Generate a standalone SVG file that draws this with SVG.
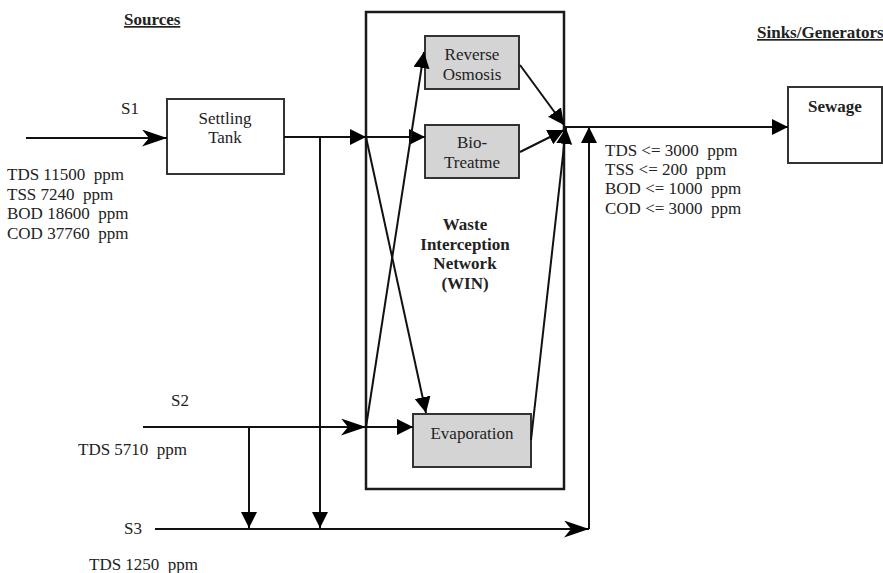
<svg xmlns="http://www.w3.org/2000/svg" width="883" height="573" viewBox="0 0 883 573">
  <style>
    text { font-family: "Liberation Serif", "Times New Roman", serif; font-size: 17px; fill: #222; white-space: pre; }
    .c { text-anchor: middle; }
    .b { font-weight: bold; }
    .u { text-decoration: underline; }
    .box { fill: #fff; stroke: #333; stroke-width: 2; }
    .unit { fill: #d4d4d4; stroke: #333; stroke-width: 2; }
    .win { fill: none; stroke: #1a1a1a; stroke-width: 2.5; }
    .flow { fill: none; stroke: #111; stroke-width: 2; }
    .tri { marker-end: url(#tri); }
    .stl { marker-end: url(#stealth); }
  </style>
  <defs>
    <marker id="tri" markerUnits="userSpaceOnUse" markerWidth="18" markerHeight="17" refX="16" refY="8" orient="auto">
      <path d="M0,0 L16,8 L0,16 z" fill="#000"/>
    </marker>
    <marker id="stealth" markerUnits="userSpaceOnUse" markerWidth="26" markerHeight="18" refX="25" refY="8.5" orient="auto">
      <path d="M0,0 L25,8.5 L0,17 L7,8.5 z" fill="#000"/>
    </marker>
  </defs>

  <rect width="883" height="573" fill="#fff"/>

  <!-- headings -->
  <text class="b u" x="124" y="25">Sources</text>
  <text class="b u" x="757" y="38">Sinks/Generators</text>

  <!-- interception network enclosure -->
  <g id="win">
    <rect class="win" x="366" y="12" width="198" height="477"/>
    <text class="b c" x="465" y="230" font-size="16">Waste</text>
    <text class="b c" x="465" y="250" font-size="16">Interception</text>
    <text class="b c" x="465" y="269" font-size="16">Network</text>
    <text class="b c" x="465" y="289" font-size="16">(WIN)</text>
  </g>

  <g id="settling-tank">
    <rect class="box" x="167" y="99" width="117" height="75"/>
    <text class="c" x="225" y="124">Settling</text>
    <text class="c" x="225" y="143">Tank</text>
  </g>

  <g id="reverse-osmosis">
    <rect class="unit" x="425" y="36" width="94" height="53"/>
    <text class="c" x="472" y="60">Reverse</text>
    <text class="c" x="472" y="80">Osmosis</text>
  </g>

  <g id="bio-treatment">
    <rect class="unit" x="425" y="125" width="94" height="53"/>
    <text class="c" x="472" y="148">Bio-</text>
    <text class="c" x="472" y="168">Treatme</text>
  </g>

  <g id="evaporation">
    <rect class="unit" x="413" y="414" width="118" height="53"/>
    <text class="c" x="472" y="439">Evaporation</text>
  </g>

  <g id="sewage">
    <rect class="box" x="788" y="87" width="94" height="76"/>
    <text class="b c" x="835" y="112">Sewage</text>
  </g>

  <!-- source streams -->
  <g id="source-s1">
    <text class="c" x="130" y="114">S1</text>
    <text x="7" y="180">TDS 11500  ppm</text>
    <text x="7" y="199.5">TSS 7240  ppm</text>
    <text x="7" y="219">BOD 18600  ppm</text>
    <text x="7" y="238.5">COD 37760  ppm</text>
  </g>
  <g id="source-s2">
    <text class="c" x="180" y="406">S2</text>
    <text x="78" y="455">TDS 5710  ppm</text>
  </g>
  <g id="source-s3">
    <text class="c" x="133" y="534">S3</text>
    <text x="89" y="570">TDS 1250  ppm</text>
  </g>

  <!-- discharge limits -->
  <g id="limits">
    <text x="605" y="156">TDS &lt;= 3000  ppm</text>
    <text x="605" y="175">TSS &lt;= 200  ppm</text>
    <text x="605" y="194">BOD &lt;= 1000  ppm</text>
    <text x="605" y="214">COD &lt;= 3000  ppm</text>
  </g>

  <g id="connectors">
    <line class="flow stl" x1="26" y1="138" x2="167" y2="138"/>
    <line class="flow tri" x1="284" y1="137" x2="366" y2="137"/>
    <line class="flow tri" x1="366" y1="137" x2="425" y2="137"/>
    <line class="flow tri" x1="320" y1="137" x2="320" y2="528"/>
    <line class="flow tri" x1="366" y1="137" x2="426" y2="413"/>

    <line class="flow stl" x1="143" y1="427" x2="366" y2="427"/>
    <line class="flow tri" x1="366" y1="427" x2="413" y2="427"/>
    <line class="flow tri" x1="366" y1="427" x2="424" y2="52"/>
    <line class="flow tri" x1="249" y1="427" x2="249" y2="528"/>

    <line class="flow stl" x1="155" y1="529" x2="589" y2="529"/>
    <line class="flow tri" x1="589" y1="529" x2="589" y2="127"/>

    <line class="flow tri" x1="520" y1="65" x2="564" y2="125"/>
    <line class="flow tri" x1="520" y1="152" x2="564" y2="130"/>
    <line class="flow tri" x1="531" y1="440" x2="566" y2="128"/>

    <line class="flow tri" x1="564" y1="127" x2="788" y2="127"/>
  </g>
</svg>
